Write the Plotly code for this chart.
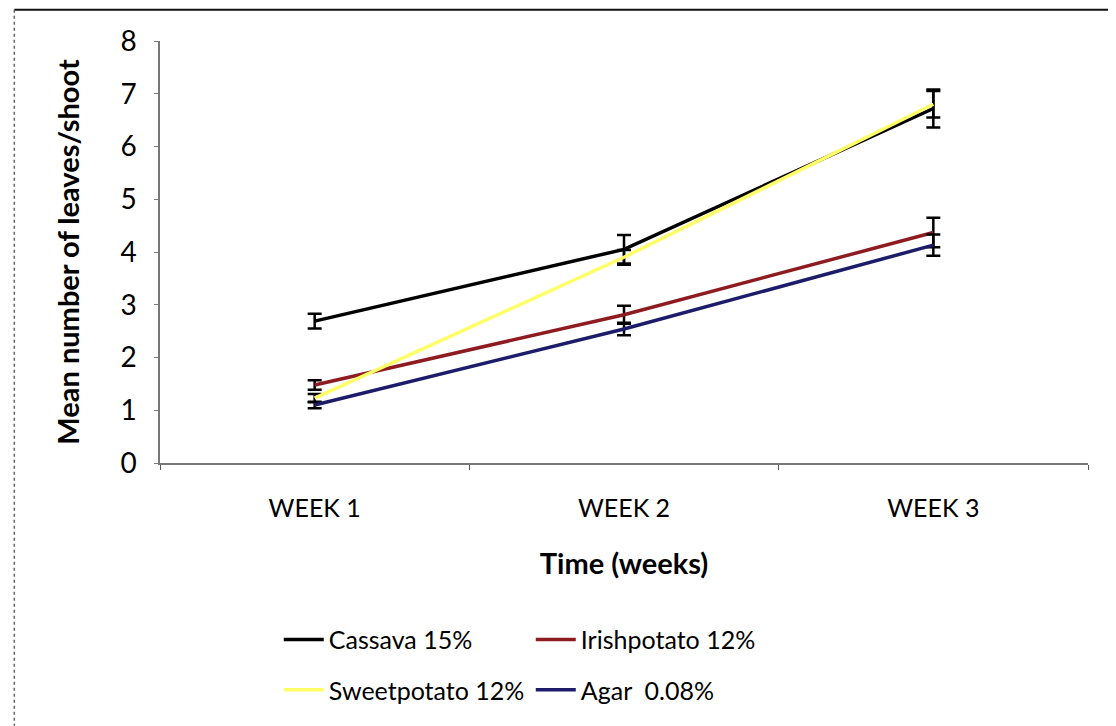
import plotly.graph_objects as go

weeks = ["WEEK 1", "WEEK 2", "WEEK 3"]
series_names = ["Cassava 15%", "Irishpotato 12%", "Sweetpotato 12%", "Agar  0.08%"]
cassava = [2.69, 4.05, 6.72]
cassava_err = [0.14, 0.27, 0.36]
irish = [1.48, 2.81, 4.37]
irish_err = [0.09, 0.17, 0.28]
sweet = [1.23, 3.9, 6.8]
sweet_err = [0.08, 0.14, 0.25]
agar = [1.1, 2.54, 4.13]
agar_err = [0.06, 0.12, 0.2]
colors = ["#000000", "#8e1b1f", "#ffff66", "#1c1c6a"]
y_ticks = [0, 1, 2, 3, 4, 5, 6, 7, 8]

FONT = "Lato"
fig = go.Figure()
data = [(cassava, cassava_err), (irish, irish_err), (sweet, sweet_err), (agar, agar_err)]
legend_ids = ["legend", "legend", "legend2", "legend2"]
for name, (vals, errs), col, lg in zip(series_names, data, colors, legend_ids):
    fig.add_trace(go.Scatter(
        x=weeks, y=vals, name=name, mode="lines",
        line=dict(color=col, width=3.5),
        error_y=dict(type="data", array=errs, visible=True, color="#000000",
                     thickness=2.5, width=7),
        legend=lg,
    ))

legend_common = dict(orientation="h", font=dict(family=FONT, size=25, color="#000"),
                     bgcolor="rgba(0,0,0,0)", xanchor="left", yanchor="middle",
                     entrywidth=197, entrywidthmode="pixels", itemwidth=40,
                     tracegroupgap=0)

fig.update_layout(
    width=1108, height=718,
    margin=dict(l=152, r=28, t=33, b=263),
    paper_bgcolor="white", plot_bgcolor="white",
    font=dict(family=FONT, color="#000"),
    showlegend=True,
    legend=dict(x=0.128, y=-0.419, **legend_common),
    legend2=dict(x=0.128, y=-0.538, **legend_common),
    xaxis=dict(
        range=[-0.5, 2.5], showgrid=False, showline=True, linecolor="#777",
        linewidth=1.5, ticks="outside", tickson="boundaries", ticklen=5,
        tickcolor="#555", tickfont=dict(family=FONT, size=25, color="#000"),
        ticklabelstandoff=22, automargin=False,
        title=dict(text="<b>Time (weeks)</b>", font=dict(family=FONT, size=29, color="#000"),
                   standoff=33),
    ),
    yaxis=dict(
        range=[0, 8], tickvals=y_ticks, showgrid=False, showline=True, linecolor="#777",
        linewidth=1.5, ticks="outside", ticklen=4, tickcolor="#777",
        tickfont=dict(family=FONT, size=28, color="#000"),
        ticklabelstandoff=12, zeroline=False, automargin=False,
        title=dict(text="<b>Mean number of leaves/shoot</b>",
                   font=dict(family=FONT, size=29, color="#000"), standoff=32),
    ),
)

# outer chart border
fig.add_shape(type="line", xref="paper", yref="paper", x0=-0.157, x1=1.024, y0=1.074, y1=1.074,
              line=dict(color="#111", width=2))
fig.add_shape(type="line", xref="paper", yref="paper", x0=-0.157, x1=-0.157, y0=1.074, y1=-0.64,
              line=dict(color="#666", width=1.5, dash="dot"))
fig.add_shape(type="line", xref="paper", yref="paper", x0=1.023, x1=1.023, y0=1.074, y1=-0.64,
              line=dict(color="#111", width=2))

fig.write_html("out.html")
